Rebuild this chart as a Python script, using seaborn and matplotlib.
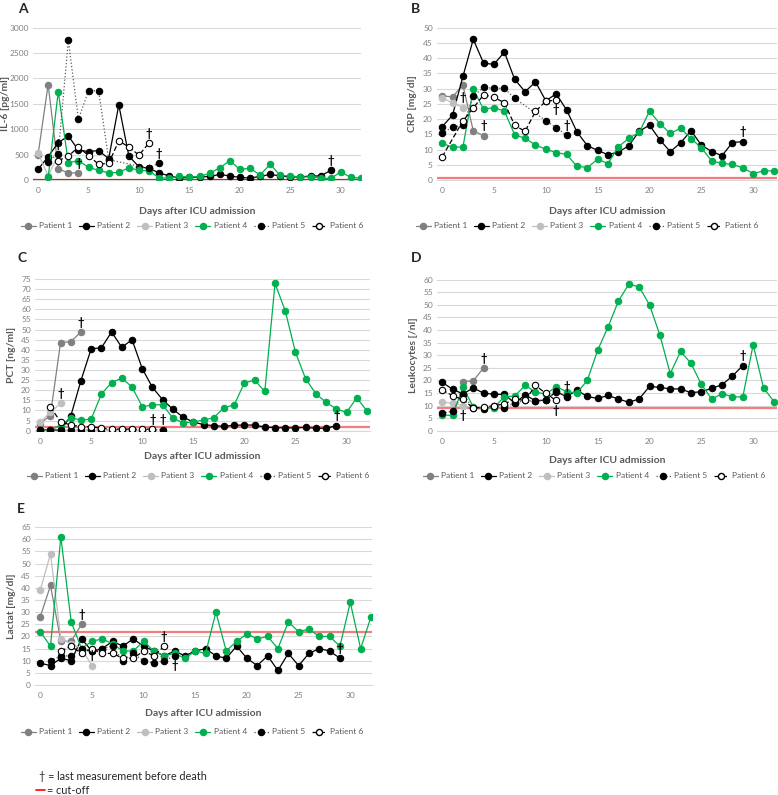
import numpy as np
import pandas as pd
import matplotlib
matplotlib.use('Agg')
import matplotlib.pyplot as plt
import seaborn as sns
from matplotlib.lines import Line2D

nan = np.nan

# values per day after ICU admission (list index = day), nan = not measured
patients = ['Patient 1', 'Patient 2', 'Patient 3', 'Patient 4', 'Patient 5', 'Patient 6']

# A - IL-6 [pg/ml]
il6_p1 = [500, 1880, 220, 140, 140]
il6_p2 = [210, 460, 735, 867, 590, 560, 580, 420, 1480, 470, 260, 230, 140, 80, 40, 50, 60,
          70, 110, 80, 50, 40, 70, 110, 80, 60, 60, 80, 80, 190]
il6_p3 = [530, 80, 500]
il6_p4 = [nan, 50, 1740, 340, 380, 250, 190, 140, 150, 240, 190, 180, 40, 40, 70, 60, 70,
          130, 240, 380, 210, 230, 100, 310, 90, 80, 60, 60, 40, 30, 160, 50, 40]
il6_p5 = [nan, 360, 520, 2750, 1195, 1760, 1760, 400, nan, nan, nan, 230, 340]
il6_p6 = [nan, nan, 380, 470, 650, 480, 310, 330, 770, 650, 490, 730]
il6_cutoff = 7

# B - CRP [mg/dl]
crp_p1 = [27.6, 27.3, 31.2, 16.1, 14.6]
crp_p2 = [17.5, 21.3, 34, 46.2, 38.3, 38, 42, 33, 29, 32.2, 26, 28.3, 23, 15.8, 11.3, 9.7,
          8.3, 9.2, 11.2, 16, 18, 13.2, 9.3, 12.2, 16.2, 11.5, 9.3, 8, 12.3, 12.6]
crp_p3 = [27, 25.3, 23.8]
crp_p4 = [12, 10.8, 10.8, 29.8, 23.2, 23.8, 22.6, 14.8, 13.7, 11.5, 10.1, 9, 8.4, 4.5, 4.1,
          6.8, 5.4, 10.9, 13.7, 15.6, 22.6, 18.5, 15.3, 17, 13.6, 10.6, 6.2, 5.5, 5.1, 4,
          2.1, 3, 3]
crp_p5 = [15.3, 17.4, 17.9, 27.5, 30.4, 30.1, 30.1, 26.8, nan, nan, 19.5, 17.2, 14.7]
crp_p6 = [7.6, nan, 19.4, 23.6, 28, 27.1, 25.4, 17.9, 16, 22.5, 25.9, 26.2]
crp_cutoff = 0.5

# C - PCT [ng/ml]
pct_p1 = [3.5, 7.5, 43.5, 44, 48.8]
pct_p2 = [0.5, 0.5, 0.2, 7.2, 24.8, 40.5, 41, 48.8, 41.2, 45, 30.7, 21.4, 15.3, 10.6, 6.7,
          4.3, 3, 2.5, 2.2, 2.7, 2.8, 2.8, 1.8, 1.5, 1.4, 1.4, 1.6, 1.2, 1.2, 2.5]
pct_p3 = [4.3, 9, 13.5]
pct_p4 = [0.3, 0.5, 2.5, 6.4, 5.3, 5.7, 18.1, 23.8, 26, 21.6, 11.9, 12.7, 12.9, 6.2, 3.9,
          4.3, 5.3, 6.4, 11.4, 12.7, 23.6, 25, 19.4, 72.8, 59.3, 38.8, 25.6, 18.3, 14, 10.8,
          9, 16.3, 9.8]
pct_p5 = [0.2, 0.2, 0.1, 0.4, 0.4, 0.4, 0.4, 0.4, 0.4, 0.4, 0.4, 0.4, 0.5]
pct_p6 = [nan, 11.8, 4.4, 2.8, 2, 2, 1.2, 0.8, 0.8, 0.8, 0.8, 0.8]
pct_cutoff = 2

# D - Leukocytes [/nl]
leuko_p1 = [nan, nan, 19.5, 19.8, 25]
leuko_p2 = [19.2, 16.5, 14.6, 17, 14.9, 14.5, 14.4, 11, 14.2, 11.9, 12.2, 15.5, 13.5, 16.1,
            13.6, 12.8, 14, 12.6, 11.3, 12.6, 17.6, 17.2, 16.6, 16.6, 15.1, 15.5, 16.8, 18.3,
            21.7, 25.9]
leuko_p3 = [11.3, 11, 10]
leuko_p4 = [6.2, 6.1, 17.3, 9.5, 9, 9.2, 13.5, 13.8, 18, 15.4, 14.5, 17.5, 15.5, 15, 20, 32,
            41.2, 51.5, 58.2, 57.2, 50, 38, 22.7, 31.5, 26.8, 18.4, 12.6, 14.7, 13.5, 13.4,
            34.2, 17, 11.6]
leuko_p5 = [6.9, 7.8, 14.5, 8.9, 8.6, 9.8, 9.2, 11, 12, 11.7, 12, 15.8, 13.6]
leuko_p6 = [16.2, 13.9, 12.4, 9, 9.3, 10, 10.6, 12.6, 12, 18, 14.8, 12]
leuko_cutoff = 9

# E - Lactat [mg/dl]
lac_p1 = [28, 41, 18, 18, 25]
lac_p2 = [9, 8, 11, 10, 19, 14, 15, 18, 16, 19, 16, 14, 12, 14, 12, 14, 15, 12, 11, 16, 11,
          8, 12, 6, 13, 8, 13, 15, 14, 11]
lac_p3 = [39, 54, 19, 17, 15, 8]
lac_p4 = [22, 16, 61, 26, 15, 18, 19, 17, 14, 14, 18, 14, 12, 13, 11, 14, 13, 30, 14, 18, 21,
          19, 20, 15, 26, 22, 23, 20, 20, 16, 34, 15, 28]
lac_p5 = [nan, 10, 12, 12, 15, 14, 15, 16, 10, 13, 10, 9, 10, 12]
lac_p6 = [nan, nan, 14, 16, 13, 15, 13, 13, 11, 11, 14, 12, 16]
lac_cutoff = 22

# dagger after last measurement: 1 above, -1 below, 0 survived
il6_death = [1, 1, 1, 0, 1, 1]
crp_death = [1, 1, 1, 0, 1, -1]
pct_death = [1, 1, 1, 0, 1, 1]
leuko_death = [1, 1, -1, 0, 1, -1]
lac_death = [1, 1, 1, 0, -1, 1]

sns.set_style('white')
plt.rcParams['font.family'] = ['Lato', 'DejaVu Sans']

W, H = 778, 795
fig = plt.figure(figsize=(W / 100, H / 100), dpi=100)

# line styles like the excel series
colors = ['#808080', '#000000', '#bfbfbf', '#00b050', '#595959', '#000000']
face = ['#808080', '#000000', '#bfbfbf', '#00b050', '#000000', '#ffffff']
edge = ['#808080', '#000000', '#bfbfbf', '#00b050', '#000000', '#000000']
dashes = ['-', '-', '-', '-', ':', (0, (4, 2))]
title_txt = '#595959'
tick_txt = '#808080'

panels = [
    # letter, series, cutoff, deaths, ylabel, ymax, step, (l, t, r, b), xmax, ylab_x, xlab_y, leg (x, y), letter pos
    ('A', [il6_p1, il6_p2, il6_p3, il6_p4, il6_p5, il6_p6], il6_cutoff, il6_death,
     'IL-6 [pg/ml]', 3000, 500, (33, 27.7, 361, 180), 32.0, 6, 211, (192, 226), (18, 3)),
    ('B', [crp_p1, crp_p2, crp_p3, crp_p4, crp_p5, crp_p6], crp_cutoff, crp_death,
     'CRP [mg/dl]', 50, 5, (437, 27.7, 777, 180), 32.3, 412, 211, (587, 226), (411, 3)),
    ('C', [pct_p1, pct_p2, pct_p3, pct_p4, pct_p5, pct_p6], pct_cutoff, pct_death,
     'PCT [ng/ml]', 75, 5, (35, 279, 370, 430.7), 32.3, 12, 457, (198, 476), (17, 252)),
    ('D', [leuko_p1, leuko_p2, leuko_p3, leuko_p4, leuko_p5, leuko_p6], leuko_cutoff, leuko_death,
     'Leukocytes [/nl]', 60, 5, (437, 279.7, 777, 430.7), 32.3, 413, 461, (594, 476), (411, 252)),
    ('E', [lac_p1, lac_p2, lac_p3, lac_p4, lac_p5, lac_p6], lac_cutoff, lac_death,
     'Lactat [mg/dl]', 65, 5, (35, 527.2, 372, 685), 32.1, 12, 713, (192, 732), (17, 503)),
]

for letter, series, cutoff, deaths, ylabel, ymax, step, (l, t, r, b), xmax, ylab_x, xlab_y, leg, lpos in panels:
    ax = fig.add_axes([l / W, 1 - b / H, (r - l) / W, (b - t) / H])

    # cut-off
    ax.axhline(cutoff, color='#ff0000' if letter == 'A' else '#f47c7c', lw=1.6, zorder=1)

    for i, vals in enumerate(series):
        df = pd.DataFrame({'day': np.arange(len(vals)), 'value': vals}).dropna()
        sns.lineplot(data=df, x='day', y='value', ax=ax, estimator=None, sort=False,
                     color=colors[i], linestyle=dashes[i], lw=0.9, marker='o', markersize=4.6,
                     markerfacecolor=face[i], markeredgecolor=edge[i], markeredgewidth=0.8,
                     zorder=3 + i)
        if deaths[i] != 0:
            last = df.iloc[-1]
            ax.annotate('†', (last['day'], last['value']), xytext=(0, 7 * deaths[i]),
                        textcoords='offset points', ha='center', va='center',
                        fontsize=8, fontweight='bold', color='black', zorder=10)

    ax.set_xlim(-0.5, xmax)
    ax.set_ylim(0, ymax)
    ax.set_xticks(np.arange(0, 31, 5))
    ax.set_yticks(np.arange(0, ymax + 1, step))
    ax.grid(axis='y', color='#d9d9d9', lw=0.8)
    ax.set_axisbelow(True)
    for s in ['top', 'right', 'left']:
        ax.spines[s].set_visible(False)
    ax.spines['bottom'].set_color('#d9d9d9')
    ax.tick_params(axis='x', length=3, color='#d9d9d9', labelsize=6, labelcolor=tick_txt, pad=2)
    ax.tick_params(axis='y', length=0, labelsize=6, labelcolor=tick_txt, pad=3)

    ax.set_ylabel(ylabel, fontsize=7.5, fontweight='bold', color=title_txt)
    ax.yaxis.set_label_coords((ylab_x - l) / (r - l), 0.5)
    ax.yaxis.label.set_va('center')
    ax.set_xlabel('Days after ICU admission', fontsize=7.5, fontweight='bold', color=title_txt)
    ax.xaxis.set_label_coords(0.5, (b - xlab_y) / (b - t))
    ax.xaxis.label.set_va('center')

    fig.text(lpos[0] / W, 1 - lpos[1] / H, letter, fontsize=10, fontweight='bold', va='top')

    handles = [Line2D([], [], color=colors[i], linestyle=dashes[i], lw=0.9, marker='o',
                      markersize=4.4, markerfacecolor=face[i], markeredgecolor=edge[i])
               for i in range(6)]
    fig.legend(handles, patients, loc='center', bbox_to_anchor=(leg[0] / W, 1 - leg[1] / H),
               ncol=6, frameon=False, fontsize=6, handlelength=1.8, handletextpad=0.4,
               columnspacing=0.8, labelcolor=title_txt, borderpad=0.2)

# footnote
fig.text(39 / W, 1 - 777 / H, '† = last measurement before death', fontsize=7.8, va='center')
fig.add_artist(Line2D([36 / W, 45 / W], [1 - 790 / H, 1 - 790 / H], color='#ff0000', lw=1.2))
fig.text(47 / W, 1 - 790 / H, '= cut-off', fontsize=7.8, va='center')

fig.savefig('out.png', dpi=100)
